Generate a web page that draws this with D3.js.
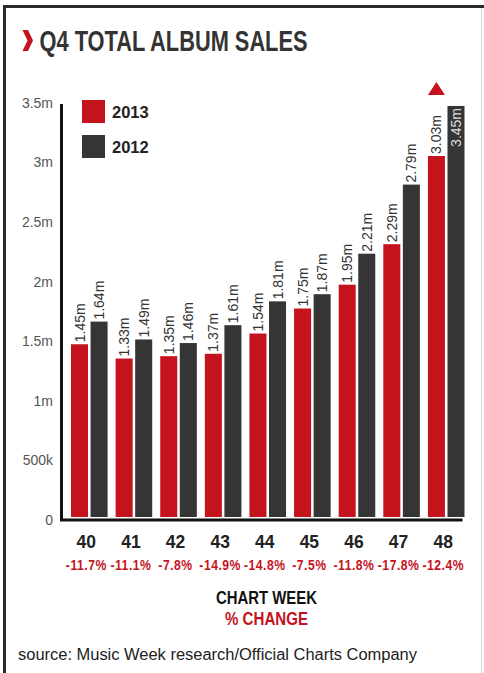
<!DOCTYPE html>
<html><head><meta charset="utf-8">
<script src="https://cdn.jsdelivr.net/npm/d3@7"></script>
<style>
html,body{margin:0;padding:0;background:#fff;}
svg{display:block;}
text{font-family:"Liberation Sans","DejaVu Sans",sans-serif;}
</style></head><body>
<script>
const weeks = ["40","41","42","43","44","45","46","47","48"];
const series = ["2013","2012"];
const sales2013 = [1.45,1.33,1.35,1.37,1.54,1.75,1.95,2.29,3.03];
const sales2012 = [1.64,1.49,1.46,1.61,1.81,1.87,2.21,2.79,3.45];
const pctChange = ["-11.7%","-11.1%","-7.8%","-14.9%","-14.8%","-7.5%","-11.8%","-17.8%","-12.4%"];
const yTicks = [0,0.5,1,1.5,2,2.5,3,3.5];
const yTickLabels = ["0","500k","1m","1.5m","2m","2.5m","3m","3.5m"];

const W = 484, H = 673;
const RED = "#c4131d", DARK = "#353535";

const svg = d3.select("body").append("svg").attr("width", W).attr("height", H);

// frame
svg.append("path").attr("d", `M4.5,${H} L4.5,6.5 L${W},6.5`)
  .attr("fill","none").attr("stroke","#2a2a2a").attr("stroke-width",3);
svg.append("line").attr("x1",481.5).attr("x2",481.5).attr("y1",8).attr("y2",H)
  .attr("stroke","#d8d8d8").attr("stroke-width",1);

// title
svg.append("path").attr("d","M22.5,30 L28,30 L33,40.5 L28,51 L22.5,51 L27.5,40.5 Z").attr("fill",RED);
svg.append("text").attr("x",39.5).attr("y",51).text("Q4 TOTAL ALBUM SALES")
  .attr("font-size",29).attr("font-weight","bold").attr("fill","#333")
  .attr("textLength",268).attr("lengthAdjust","spacingAndGlyphs");

// scales
const y = d3.scaleLinear().domain([0,3.5]).range([517,100]);
const x0 = d3.scaleBand().domain(weeks).range([71,464.5]).paddingInner(0.18).paddingOuter(0);
const x1 = d3.scaleBand().domain(series).range([0,x0.bandwidth()]).paddingInner(0.13);
const color = d3.scaleOrdinal().domain(series).range([RED, DARK]);

const rows = weeks.map((w,i)=>({week:w, vals:[{s:"2013",v:sales2013[i]},{s:"2012",v:sales2012[i]}], pct:pctChange[i]}));

// y tick labels
const yAxis = svg.append("g");
yAxis.selectAll("text").data(yTicks).join("text")
  .attr("x",53).attr("y",d=>y(d)+3).attr("dy","0.35em").attr("text-anchor","end")
  .attr("font-size",14).attr("fill","#555")
  .text((d,i)=>yTickLabels[i]);

// bars
const g = svg.append("g").selectAll("g").data(rows).join("g")
  .attr("transform",d=>`translate(${x0(d.week)},0)`);
g.selectAll("rect").data(d=>d.vals).join("rect")
  .attr("x",d=>x1(d.s)).attr("width",x1.bandwidth())
  .attr("y",d=>y(d.v)).attr("height",d=>y(0)-y(d.v))
  .attr("fill",d=>color(d.s));

// value labels
g.selectAll("text.val").data(d=>d.vals).join("text").attr("class","val")
  .each(function(d){
    const inside = y(d.v) < 115;
    const cx = x1(d.s)+x1.bandwidth()/2;
    const yy = inside ? y(d.v)+2 : y(d.v)-2;
    d3.select(this)
      .attr("transform",`translate(${cx},${yy}) rotate(-90)`)
      .attr("text-anchor", inside ? "end" : "start")
      .attr("dy","0.36em")
      .attr("font-size",14)
      .attr("fill", inside ? "#dcdcdc" : "#333")
      .text(d.v.toFixed(2)+"m");
  });

// axis lines
svg.append("path").attr("d",`M61.5,${y(3.5)+4} L61.5,${y(0)+3} L${x0.range()[1]-2},${y(0)+3}`)
  .attr("fill","none").attr("stroke","#111").attr("stroke-width",3);

// triangle marker above 48 / 2013
const cx48 = x0("48")+x1("2013")+x1.bandwidth()/2;
svg.append("path").attr("d",`M${cx48-8.5},95 L${cx48+8.5},95 L${cx48},82 Z`).attr("fill",RED);

// legend
const leg = svg.append("g");
series.forEach((s,i)=>{
  leg.append("rect").attr("x",82).attr("y",100+i*35).attr("width",23).attr("height",23).attr("fill",color(s));
  leg.append("text").attr("x",112).attr("y",112+i*35).attr("dy","0.36em")
    .attr("font-size",16.5).attr("font-weight","bold").attr("fill","#222").text(s);
});

// week labels and pct
const lab = svg.append("g").selectAll("g").data(rows).join("g")
  .attr("transform",d=>`translate(${x0(d.week)+x0.bandwidth()/2-3},0)`);
lab.append("text").attr("y",542).attr("dy","0.36em").attr("text-anchor","middle")
  .attr("font-size",17.5).attr("font-weight","bold").attr("fill","#222").text(d=>d.week);
lab.append("text").attr("transform","translate(0,565) scale(0.84,1)").attr("dy","0.36em").attr("text-anchor","middle")
  .attr("font-size",14.5).attr("font-weight","bold").attr("letter-spacing",0.6).attr("fill",RED).text(d=>d.pct);

// axis titles
svg.append("text").attr("x",216).attr("y",604).text("CHART WEEK")
  .attr("font-size",19).attr("font-weight","bold").attr("fill","#111")
  .attr("textLength",101).attr("lengthAdjust","spacingAndGlyphs");
svg.append("text").attr("x",225).attr("y",625).text("% CHANGE")
  .attr("font-size",19).attr("font-weight","bold").attr("fill",RED)
  .attr("textLength",83).attr("lengthAdjust","spacingAndGlyphs");

// source
svg.append("text").attr("x",18).attr("y",660).text("source: Music Week research/Official Charts Company")
  .attr("font-family","'Open Sans','DejaVu Sans',sans-serif")
  .attr("font-size",16).attr("fill","#222")
  .attr("textLength",399).attr("lengthAdjust","spacingAndGlyphs");
</script>
</body></html>
